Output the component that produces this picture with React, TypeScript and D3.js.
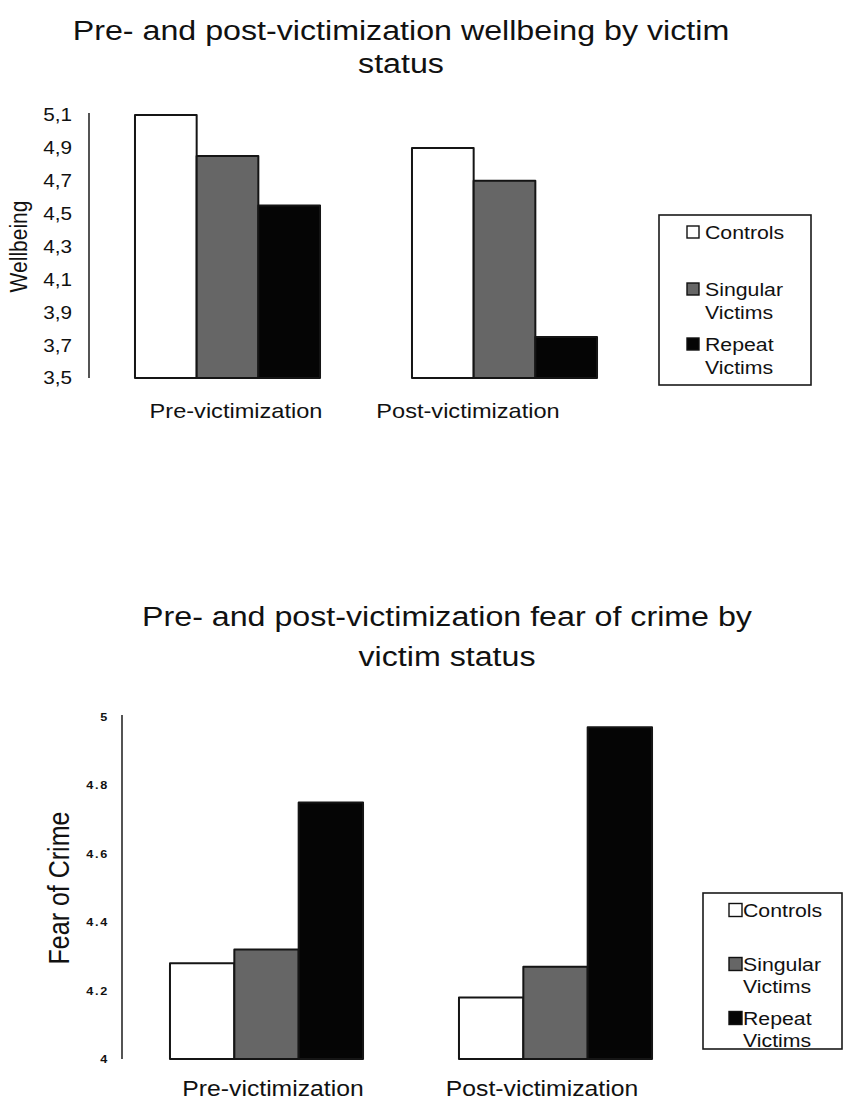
import React from "react";
import * as d3 from "d3";

// Categories and series
const categories = ["Pre-victimization", "Post-victimization"];
const seriesNames = ["Controls", "Singular Victims", "Repeat Victims"];
const seriesFills = ["#ffffff", "#666666", "#050505"];

// Wellbeing means (Controls, Singular, Repeat) per period
const wellbeingControls = [5.1, 4.9];
const wellbeingSingular = [4.85, 4.7];
const wellbeingRepeat = [4.55, 3.75];
const wellbeingTicks = [3.5, 3.7, 3.9, 4.1, 4.3, 4.5, 4.7, 4.9, 5.1];

// Fear of crime means per period
const fearControls = [4.28, 4.18];
const fearSingular = [4.32, 4.27];
const fearRepeat = [4.75, 4.97];
const fearTicks = [4, 4.2, 4.4, 4.6, 4.8, 5];

const FONT = "'Liberation Sans', Arial, Helvetica, sans-serif";
const SX = 1.15; // horizontal glyph stretch

type TProps = {
  x: number;
  y: number;
  size: number;
  anchor?: "start" | "middle" | "end";
  rotate?: number;
  spacing?: number;
  weight?: number | string;
  fill?: string;
  children: React.ReactNode;
};

function T({ x, y, size, anchor = "start", rotate = 0, spacing = 0, weight = "normal", fill = "#111", children }: TProps) {
  return (
    <text
      transform={`translate(${x},${y}) scale(${SX},1) rotate(${rotate})`}
      fontFamily={FONT}
      fontSize={size}
      textAnchor={anchor}
      letterSpacing={spacing}
      fontWeight={weight}
      fill={fill}
    >
      {children}
    </text>
  );
}

type ChartCfg = {
  title: string[];
  titleX: number;
  titleY: number[];
  titleSize: number;
  axisX: number;
  rangeEnd: number;
  yDomain: [number, number];
  yRange: [number, number];
  ticks: number[];
  tickFormat: (v: number) => string;
  tickSize: number;
  tickX: number;
  tickSpacing: number;
  tickWeight: number | string;
  yLabel: string;
  yLabelX: number;
  yLabelSize: number;
  series: number[][];
  catLabelY: number;
  catLabelSize: number;
  catLabelShift: number[];
  legend: { x: number; y: number; w: number; h: number; swX: number; sw: number; txX: number; size: number; rows: number[][] };
};

function GroupedBars({ cfg }: { cfg: ChartCfg }) {
  const x0 = d3
    .scaleBand<string>()
    .domain(categories)
    .range([cfg.axisX, cfg.rangeEnd])
    .paddingInner(0.332)
    .paddingOuter(0.166);
  const x1 = d3
    .scaleBand<string>()
    .domain(seriesNames)
    .range([0, x0.bandwidth()])
    .padding(0);
  const y = d3.scaleLinear().domain(cfg.yDomain).range(cfg.yRange);
  const base = y(cfg.yDomain[0]);
  const L = cfg.legend;

  return (
    <g>
      {cfg.title.map((line, i) => (
        <T key={i} x={cfg.titleX} y={cfg.titleY[i]} size={cfg.titleSize} anchor="middle">
          {line}
        </T>
      ))}

      {/* value axis */}
      <line
        x1={cfg.axisX}
        x2={cfg.axisX}
        y1={y(cfg.yDomain[1]) - 2}
        y2={base}
        stroke="#2a2a2a"
        strokeWidth={1.6}
      />
      {cfg.ticks.map((t) => (
        <T key={t} x={cfg.tickX} y={y(t) + cfg.tickSize * 0.36} size={cfg.tickSize} anchor="end" spacing={cfg.tickSpacing} weight={cfg.tickWeight}>
          {cfg.tickFormat(t)}
        </T>
      ))}
      <T x={cfg.yLabelX} y={(y(cfg.yDomain[1]) + base) / 2} size={cfg.yLabelSize} anchor="middle" rotate={-90}>
        {cfg.yLabel}
      </T>

      {/* bars */}
      {categories.map((c, ci) => (
        <g key={c} transform={`translate(${x0(c)},0)`}>
          {seriesNames.map((s, si) => {
            const v = cfg.series[si][ci];
            return (
              <rect
                key={s}
                x={x1(s)}
                y={y(v)}
                width={x1.bandwidth()}
                height={base - y(v)}
                fill={seriesFills[si]}
                stroke="#151515"
                strokeWidth={2}
                strokeLinejoin="round"
              />
            );
          })}
        </g>
      ))}

      {/* category labels */}
      {categories.map((c, ci) => (
        <T key={c} x={(x0(c) as number) + x0.bandwidth() / 2 + cfg.catLabelShift[ci]} y={cfg.catLabelY} size={cfg.catLabelSize} anchor="middle">
          {c}
        </T>
      ))}

      {/* legend */}
      <rect x={L.x} y={L.y} width={L.w} height={L.h} fill="#fff" stroke="#1a1a1a" strokeWidth={1.6} />
      {seriesNames.map((s, si) => {
        const words = s.split(" ");
        const rows = L.rows[si];
        return (
          <g key={s}>
            <rect
              x={L.swX}
              y={rows[0] - L.sw / 2}
              width={L.sw}
              height={L.sw}
              fill={seriesFills[si]}
              stroke="#111"
              strokeWidth={1.4}
            />
            {words.map((w, wi) => (
              <T key={wi} x={L.txX} y={rows[wi] + L.size * 0.36} size={L.size}>
                {w}
              </T>
            ))}
          </g>
        );
      })}
    </g>
  );
}

const commaFmt = (v: number) => d3.format(".1f")(v).replace(".", ",");
const plainFmt = (v: number) => d3.format("~g")(v);

const wellbeingCfg: ChartCfg = {
  title: ["Pre- and post-victimization wellbeing by victim", "status"],
  titleX: 401,
  titleY: [40, 73],
  titleSize: 28,
  axisX: 89,
  rangeEnd: 643,
  yDomain: [3.5, 5.1],
  yRange: [378, 115],
  ticks: wellbeingTicks,
  tickFormat: commaFmt,
  tickSize: 18,
  tickX: 72,
  tickSpacing: 0,
  tickWeight: "normal",
  yLabel: "Wellbeing",
  yLabelX: 27,
  yLabelSize: 21,
  series: [wellbeingControls, wellbeingSingular, wellbeingRepeat],
  catLabelY: 418,
  catLabelSize: 20.5,
  catLabelShift: [8.5, -36.5],
  legend: {
    x: 659, y: 215, w: 152, h: 170, swX: 687, sw: 12, txX: 705, size: 18.5,
    rows: [[232], [289, 312], [344, 367]],
  },
};

const fearCfg: ChartCfg = {
  title: ["Pre- and post-victimization fear of crime by", "victim status"],
  titleX: 447,
  titleY: [626, 666],
  titleSize: 28,
  axisX: 122,
  rangeEnd: 700,
  yDomain: [4, 5],
  yRange: [1059, 717],
  ticks: fearTicks,
  tickFormat: plainFmt,
  tickSize: 11,
  tickX: 109,
  tickSpacing: 1.5,
  tickWeight: "bold",
  yLabel: "Fear of Crime",
  yLabelX: 69,
  yLabelSize: 25,
  series: [fearControls, fearSingular, fearRepeat],
  catLabelY: 1096,
  catLabelSize: 21.5,
  catLabelShift: [6.5, -13.5],
  legend: {
    x: 703, y: 893, w: 139, h: 156, swX: 729, sw: 13, txX: 743, size: 18.5,
    rows: [[910], [964, 986], [1018, 1040]],
  },
};

export default function App() {
  return (
    <svg
      width={845}
      height={1101}
      viewBox="0 0 845 1101"
      style={{ position: "absolute", left: 0, top: 0, background: "#fff" }}
    >
      <rect width={845} height={1101} fill="#fff" />
      <GroupedBars cfg={wellbeingCfg} />
      <GroupedBars cfg={fearCfg} />
    </svg>
  );
}
